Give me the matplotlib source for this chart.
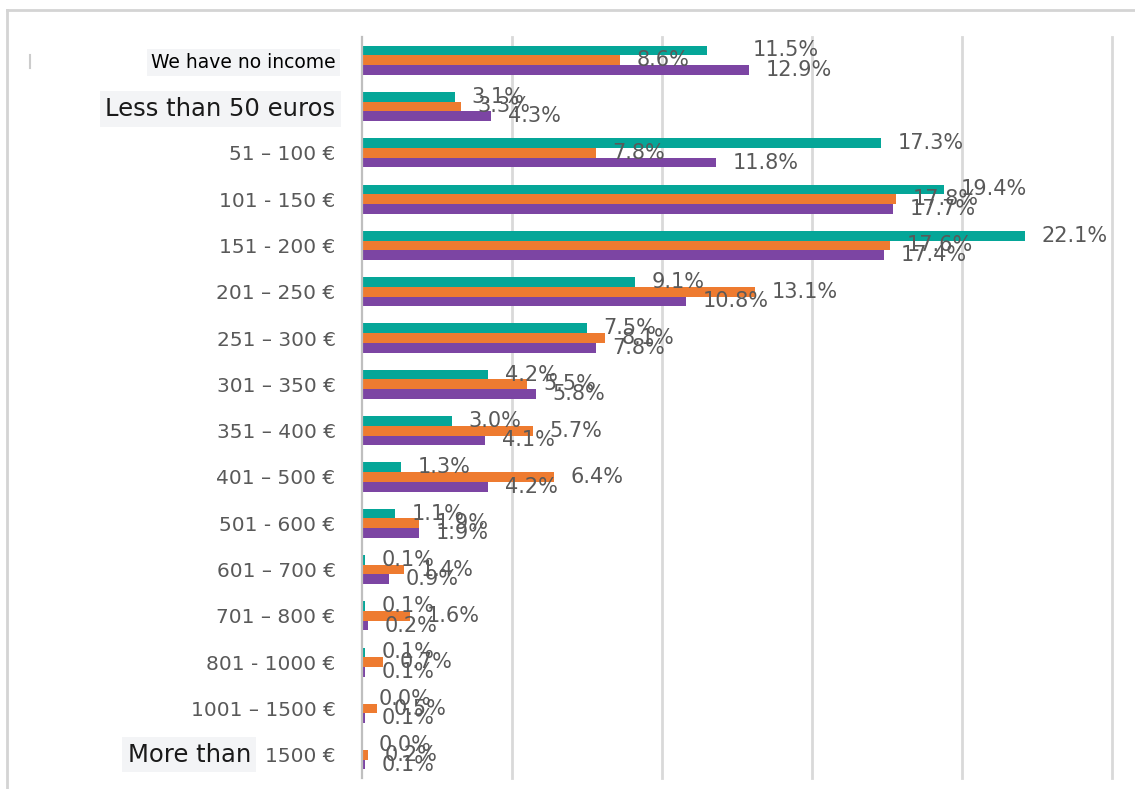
import matplotlib.pyplot as plt
from matplotlib.lines import Line2D

plt.rcParams['font.family'] = ['DejaVu Sans']

# income bands (top to bottom)
categories = ["We have no income", "Less than 50 euros", "51 – 100 €", "101 - 150 €",
              "151 - 200 €", "201 – 250 €", "251 – 300 €", "301 – 350 €", "351 – 400 €",
              "401 – 500 €", "501 - 600 €", "601 – 700 €", "701 – 800 €", "801 - 1000 €",
              "1001 – 1500 €", "1500 €"]

# shares in percent, three survey groups
teal_vals = [11.5, 3.1, 17.3, 19.4, 22.1, 9.1, 7.5, 4.2, 3.0, 1.3, 1.1, 0.1, 0.1, 0.1, 0.0, 0.0]
orange_vals = [8.6, 3.3, 7.8, 17.8, 17.6, 13.1, 8.1, 5.5, 5.7, 6.4, 1.9, 1.4, 1.6, 0.7, 0.5, 0.2]
purple_vals = [12.9, 4.3, 11.8, 17.7, 17.4, 10.8, 7.8, 5.8, 4.1, 4.2, 1.9, 0.9, 0.2, 0.1, 0.1, 0.1]

colors = ["#05a698", "#ee7b30", "#7c45a3"]
series = [teal_vals, orange_vals, purple_vals]

fig = plt.figure(figsize=(11.35, 7.89), dpi=100)
ax = fig.add_axes([362 / 1135, 1 - 778 / 789, 750 / 1135, 741 / 789])

h = 0.21
ypos = list(range(len(categories)))
for k, (vals, col) in enumerate(zip(series, colors)):
    offs = (k - 1) * h
    yk = [y + offs for y in ypos]
    ax.barh(yk, vals, height=h, color=col, zorder=3)
    for y, v in zip(yk, vals):
        dx = 12
        if k == 0 and y == offs:
            dx = 33
        ax.annotate(f"{v:.1f}%", xy=(v, y), xytext=(dx, 0), textcoords="offset points",
                    ha="left", va="center", fontsize=15, color="#595959", zorder=5,
                    annotation_clip=False)

ax.set_xlim(0, 25)
ax.set_ylim(len(categories) - 0.5, -0.5)

# vertical gridlines every 5 %
for gx in [5, 10, 15, 20, 25]:
    ax.axvline(gx, color="#d9d9d9", lw=2, zorder=1, clip_on=False)

for s in ["top", "right", "bottom"]:
    ax.spines[s].set_visible(False)
ax.spines["left"].set_color("#bfbfbf")
ax.spines["left"].set_linewidth(1.6)
ax.spines["left"].set_zorder(4)

ax.set_xticks([])
ax.set_yticks(ypos)
ax.set_yticklabels(categories, fontsize=14.5, color="#595959")
ax.tick_params(axis="y", length=0, pad=19)

lbls = ax.get_yticklabels()
lbls[0].set(color="black", fontsize=13.5,
            bbox=dict(facecolor="#f3f4f6", edgecolor="none", pad=3))
lbls[1].set(color="#1a1a1a", fontsize=17.5,
            bbox=dict(facecolor="#f3f4f6", edgecolor="none", pad=4))

ax.annotate("More than", xy=(0, 15), xytext=(-80, 0), textcoords="offset points",
            ha="right", va="center", fontsize=17.5, color="#1a1a1a",
            annotation_clip=False,
            bbox=dict(facecolor="#f3f4f6", edgecolor="none", pad=4))

# outer frame and small marker on the left
W, H = 1135, 789
fig.add_artist(Line2D([7 / W, 1], [1 - 10 / H, 1 - 10 / H], color="#d4d4d4", lw=2))
fig.add_artist(Line2D([7 / W, 7 / W], [0, 1 - 10 / H], color="#d4d4d4", lw=2))
fig.add_artist(Line2D([30 / W, 30 / W], [1 - 55 / H, 1 - 68 / H], color="#cccccc", lw=1.5))

fig.savefig("out.png", dpi=100)
